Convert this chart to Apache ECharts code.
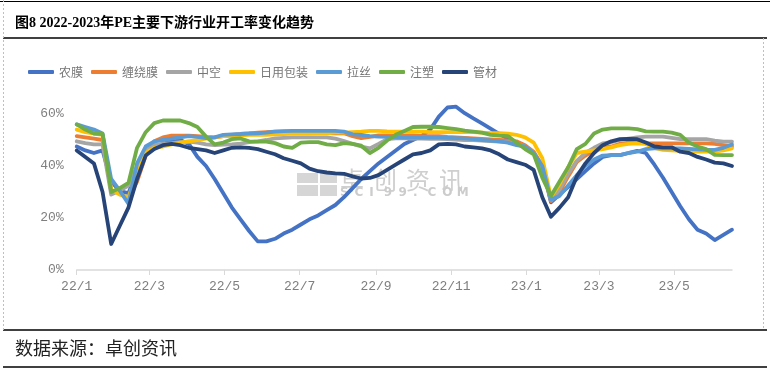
<!DOCTYPE html>
<html><head><meta charset="utf-8">
<script src="https://cdn.jsdelivr.net/npm/echarts@6/dist/echarts.min.js"></script>
<style>html,body{margin:0;padding:0;background:#fff}#c{width:770px;height:370px}</style>
</head><body><div id="c"></div>
<script>
// Weekly observations: days since 2022-01-01
const weekDays = [0,7,14,21,28,35,42,49,56,63,70,77,84,91,98,105,112,119,126,133,140,147,154,161,168,175,182,189,196,203,210,217,224,231,238,245,252,259,266,273,280,287,294,301,308,315,322,329,336,343,350,357,364,371,378,385,392,399,406,413,420,427,434,441,448,455,462,469,476,483,490,497,504,511,518,525,532];
// x-axis tick positions (month starts, days since 2022-01-01) and labels
const tickDays = [0,59,120,181,243,304,365,424,485];
const tickLabels = ['22/1','22/3','22/5','22/7','22/9','22/11','23/1','23/3','23/5'];
const yTicks = [0,20,40,60];
const seriesNames = ['农膜','缠绕膜','中空','日用包装','拉丝','注塑','管材'];
const seriesColors = ['#4472C4','#ED7D31','#A5A5A5','#FFC000','#5B9BD5','#70AD47','#264478'];

const nongmo = [47.5,46,45,46,34,30.5,29.5,38,45,47,
  48.5,49.5,50,48.5,43.5,40,35,29.5,24,19.5,
  15,11,11,12,14,15.5,17.5,19.5,21,23,
  25,28,31.5,35,38,41,43.5,46,48.5,50,
  51.5,54,59,62.5,62.8,60.3,58.3,56.4,54.4,52.4,
  50.5,49,47.6,45,40,26,29,32,35,38,
  41,43.5,44.2,44.2,45,45.8,45,40.5,35.5,30,
  24.5,19.5,15.5,14,11.5,13.5,15.5];
const chanraomo = [51.5,51,50.5,50,30.5,29.5,27.5,34,44,49.5,
  51,51.7,51.7,51.7,51.5,51.2,51,51.5,52,52.3,
  52.5,52.8,53,53.2,53.2,53.2,53,52.8,52.8,52.7,
  52.6,52.6,51.5,50.7,51.2,51.8,51.8,51.8,51.8,51.8,
  51.6,51.5,51.5,51.2,51,50.8,50.6,50.4,50.2,50,
  49.8,49.5,48,45.5,40,26.5,30,36,41.5,44,
  46,47,47.5,48.5,49,49,48.8,48.7,48.7,48.7,
  48.7,48.7,48.7,48.7,48.5,48,47.5];
const zhongkong = [49.5,48.8,48.3,48.3,29,30.5,32.5,40,46,48,
  48.5,48.8,49.2,49.4,49,48.3,48,48.2,48.3,48.6,
  49.2,49.5,50,50.6,50.8,51,51,51,51,51,
  50.5,49.6,48.5,47.5,46.8,48.5,50.3,50.6,50.6,50.5,
  50.5,50.4,50.4,50.3,50.2,50,50,49.8,49.6,49.4,
  49.2,48.5,47.5,45,39,27,31,37,42,45,
  47,48.7,49.2,50,50.5,51,51.3,51.3,51.3,50.8,
  50.3,50.3,50.3,50.3,49.8,49.4,49.4];
const riyong = [54,53,52.5,52,31,29,28,37,45,47,
  47.5,48.3,49,49.5,50,50.5,51,51.5,51.5,51.8,
  52,52,52,52.2,52.3,52.5,52.5,52.5,52.6,52.6,
  52.8,52.8,53,53.2,53.5,53.5,53.3,53.2,53.2,53.2,
  53.2,53,53,53,53,53,53,52.8,52.6,52.6,
  52.4,52,51,49,43,28,33,39.5,45,45.5,
  46,46.5,47.2,48,48.5,48.7,48.5,47,46.2,46,
  45.8,45.5,45.5,45.5,45.5,46,46.8];
const lasi = [56,55,54,52.5,35,30.5,25.5,41,47.5,49.5,
  50,50.5,51,51.5,51.2,50.7,51,52,52.2,52.3,
  52.5,52.6,52.8,53.2,53.4,53.5,53.5,53.5,53.5,53.5,
  53.5,53.2,52.2,52,51.5,51.3,51.2,51,50.9,50.9,
  50.9,50.9,50.9,50.8,50.7,50.6,50.3,50,49.8,49.5,
  49,48,47.5,45,40,27,28.5,32.5,36.5,40,
  42.5,44,44.2,44.2,45,45.5,46.5,46.8,46.8,46.8,
  46.8,46.6,46.4,46.2,46.2,47,48.3];
const zhusu = [56,54,52.5,52.3,30,31.5,33.5,47,53,56.5,
  57.5,57.5,57.5,56.5,55,51.3,48.3,49,50.3,50.6,
  49.5,49.4,49.4,48.8,47.5,47,49,49.2,49.2,48.3,
  48,48.8,48.5,47.8,45,47,49.8,52,53.5,55,
  55.1,55.1,55,54.6,54.2,53.6,53.2,52.8,52,51.7,
  51.5,49,46.5,44.5,35.5,28.5,34,39.5,46.5,48.5,
  52.5,54,54.5,54.5,54.5,54.2,53.3,53.2,53.2,52.8,
  52,49,47.5,46.5,44.3,44.2,44.2];
const guancai = [46,43.5,41,30,10,17,24,35,44,46.5,
  48,48.5,48,47,46.5,46,45,46,47,47.2,
  47,46.5,45.5,44.5,43,42,41,39,38,37.5,
  37.2,37,36,35.2,35.4,36.5,38.5,40.5,42.5,44.5,
  45,46,48.3,48.5,48.3,47.5,47.2,46.8,46,44.5,
  42.5,41.5,40.5,38.5,28,20.5,24,28,36,41,
  45,48,49.5,50.3,50.4,50.3,49,47.5,47.2,47.2,
  45.5,45,43.5,42.5,41.3,41,40];

const allValues = [nongmo, chanraomo, zhongkong, riyong, lasi, zhusu, guancai];

const chart = echarts.init(document.getElementById('c'), null, {renderer:'canvas'});
const CJK = "'Noto Sans CJK SC', sans-serif";

const wmChars = '卓创资讯';
const wmSub = 'SCI99.COM';
const graphic = [
  {type:'line', shape:{x1:0,y1:1.5,x2:770,y2:1.5}, style:{stroke:'#000',lineWidth:1}},
  {type:'line', shape:{x1:3,y1:38,x2:767,y2:38}, style:{stroke:'#000',lineWidth:1.5}},
  {type:'line', shape:{x1:3,y1:330,x2:767,y2:330}, style:{stroke:'#000',lineWidth:1.5}},
  {type:'line', shape:{x1:3,y1:367,x2:767,y2:367}, style:{stroke:'#000',lineWidth:1.5}},
  {type:'line', shape:{x1:3.5,y1:0,x2:3.5,y2:330}, style:{stroke:'#bfbfbf',lineWidth:1,lineDash:[2,2]}},
  {type:'line', shape:{x1:763.5,y1:38,x2:763.5,y2:330}, style:{stroke:'#bfbfbf',lineWidth:1,lineDash:[2,2]}},
  {type:'text', left:15, top:339, style:{text:'数据来源：卓创资讯', font:"18px 'Noto Sans CJK SC'", fill:'#222'}},
  // watermark logo
  {type:'rect', z:0, shape:{x:297,y:173,width:21,height:10}, style:{fill:'#d6d6d6'}},
  {type:'rect', z:0, shape:{x:320,y:173,width:17,height:10}, style:{fill:'#d6d6d6'}},
  {type:'rect', z:0, shape:{x:297,y:185,width:21,height:11}, style:{fill:'#d6d6d6'}},
  {type:'rect', z:0, shape:{x:320,y:185,width:17,height:11}, style:{fill:'#d6d6d6'}}
];
for (let i = 0; i < wmChars.length; i++) {
  graphic.push({type:'text', z:0, x:340 + i*33, y:168, style:{text:wmChars[i], font:"24px 'Noto Sans CJK SC'", fill:'#cfcfcf'}});
}
for (let i = 0; i < wmSub.length; i++) {
  graphic.push({type:'text', z:0, x:340 + i*14.6, y:187, style:{text:wmSub[i], font:"bold 12px 'DejaVu Sans'", fill:'#cccccc'}});
}

chart.setOption({
  animation:false,
  title:{
    text:'图8 2022-2023年PE主要下游行业开工率变化趋势',
    left:10, top:11,
    textStyle:{fontSize:14, fontWeight:'bold', color:'#000', fontFamily:"'Liberation Serif','Noto Sans CJK SC', serif"}
  },
  legend:{
    left:23, top:61, itemWidth:26, itemHeight:4, itemGap:8,
    icon:'roundRect',
    textStyle:{fontSize:12, color:'#767676', fontFamily:CJK},
    data:seriesNames
  },
  grid:{left:76.7, right:38, top:88, bottom:100},
  xAxis:{
    type:'value', min:0, max:532,
    axisLine:{show:true, lineStyle:{color:'#d9d9d9', width:1.5}},
    axisTick:{show:true, customValues:tickDays, length:5, lineStyle:{color:'#d9d9d9', width:1}},
    axisLabel:{customValues:tickDays, margin:10, fontSize:13, color:'#7f7f7f', fontFamily:"'Liberation Mono', monospace",
      formatter:(v)=>{const k = tickDays.indexOf(v); return k>=0 ? tickLabels[k] : '';}},
    splitLine:{show:false}
  },
  yAxis:{
    type:'value', min:0, max:70,
    axisLine:{show:false}, axisTick:{show:false}, splitLine:{show:false},
    axisLabel:{customValues:yTicks, margin:13, fontSize:13, color:'#7f7f7f', fontFamily:"'Liberation Mono', monospace",
      formatter:(v)=>v+'%'}
  },
  graphic: graphic,
  series: seriesNames.map((name, k)=>({
    name, type:'line', symbol:'none', smooth:false, z:3,
    color: seriesColors[k],
    lineStyle:{width:3.8, color:seriesColors[k], join:'round', cap:'round'},
    data: allValues[k].map((v,i)=>[weekDays[i], v])
  }))
});
</script></body></html>
